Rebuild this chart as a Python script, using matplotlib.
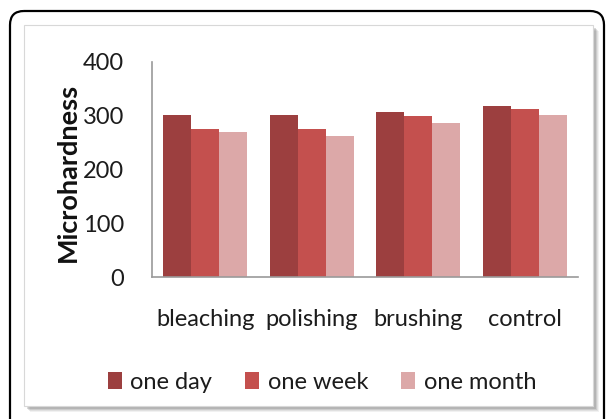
import matplotlib
matplotlib.use("Agg")
import matplotlib.pyplot as plt
from matplotlib.patches import FancyBboxPatch, Rectangle
import numpy as np

categories = ["bleaching", "polishing", "brushing", "control"]
series_names = ["one day", "one week", "one month"]
one_day = [302, 301, 307, 319]
one_week = [275, 275, 300, 312]
one_month = [270, 262, 286, 302]
yticks = [0, 100, 200, 300, 400]
ylabel = "Microhardness"

colors = ["#9c3f3f", "#c4504e", "#dca8a8"]
FONT = ["Lato", "DejaVu Sans"]
TXT = "#1c1c1c"

W, H = 607, 419
fig = plt.figure(figsize=(W / 100, H / 100), dpi=100)
fig.patch.set_facecolor("white")

# background axes in pixel coordinates for the frame and panel
bg = fig.add_axes([0, 0, 1, 1], zorder=0)
bg.set_xlim(0, W)
bg.set_ylim(H, 0)
bg.axis("off")
# outer black rounded frame
bg.add_patch(FancyBboxPatch((10, 11), 594, 425, boxstyle="round,pad=0,rounding_size=14",
                            fill=False, edgecolor="black", linewidth=1.6))
# shadow for inner panel
for i, a in enumerate([0.10, 0.14, 0.20, 0.28]):
    off = 4 - i
    bg.add_patch(Rectangle((26 + off, 27 + off), 569, 381, facecolor="#7a7a7a",
                           alpha=a, edgecolor="none"))
bg.add_patch(Rectangle((24, 25), 569, 381, facecolor="white", edgecolor="#d8d8d8",
                       linewidth=0.8))

ax = fig.add_axes([152 / W, 1 - 277 / H, (578 - 152) / W, (277 - 62) / H], zorder=1)
ax.set_facecolor("none")

x = np.arange(len(categories))
bw = 0.262
series = [one_day, one_week, one_month]
handles = []
for i, (vals, c, name) in enumerate(zip(series, colors, series_names)):
    b = ax.bar(x + (i - 1) * bw, vals, width=bw, color=c, label=name, edgecolor="none")
    handles.append(b)

ax.set_xlim(-0.5, len(categories) - 0.5)
ax.set_ylim(0, 400)
ax.set_yticks(yticks)
ax.set_yticklabels([str(v) for v in yticks], fontsize=17, family=FONT, color=TXT)
ax.set_xticks(x)
ax.set_xticklabels(categories, fontsize=17, family=FONT, color=TXT)
ax.tick_params(axis="y", length=0, pad=20)
ax.tick_params(axis="x", length=0, pad=23)
for s in ["top", "right"]:
    ax.spines[s].set_visible(False)
for s in ["left", "bottom"]:
    ax.spines[s].set_color("#9a9a9a")
    ax.spines[s].set_linewidth(1.2)

fig.text(68 / W, 1 - 172 / H, ylabel, rotation=90, ha="center", va="center",
         fontsize=19.5, fontweight="bold", family=FONT, color="#111111")

leg = fig.legend(handles=handles, labels=series_names, loc="center",
                 bbox_to_anchor=(322 / W, 1 - 382 / H), ncol=3, frameon=False,
                 prop={"family": FONT, "size": 17}, handlelength=0.6, handleheight=0.75,
                 handletextpad=0.35, columnspacing=1.4)
for t in leg.get_texts():
    t.set_color(TXT)

fig.savefig("out.png", dpi=100)
